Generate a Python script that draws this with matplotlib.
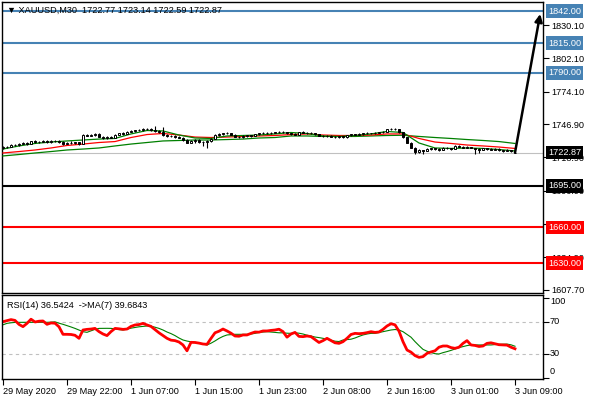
import numpy as np
import matplotlib
matplotlib.use("Agg")
import matplotlib.pyplot as plt

plt.rcParams['font.family'] = ['Liberation Sans', 'DejaVu Sans']

# ---- data (XAUUSD M30) ----
opens = [1726.8, 1727.5, 1728.0, 1729.6, 1729.2, 1730.5, 1731.0, 1730.2, 1732.4, 1731.6,
         1732.2, 1732.8, 1731.9, 1732.5, 1732.9, 1731.8, 1730.4, 1731.2, 1731.0, 1731.6,
         1730.4, 1737.6, 1737.1, 1737.9, 1738.6, 1736.3, 1735.0, 1736.2, 1735.4, 1738.1,
         1739.0, 1738.6, 1740.5, 1741.0, 1741.6, 1742.0, 1742.6, 1742.9, 1742.0, 1741.0,
         1740.0, 1738.0, 1736.5, 1737.0, 1736.0, 1735.5, 1733.4, 1731.2, 1733.0, 1733.5,
         1732.0, 1731.5, 1732.6, 1734.4, 1737.8, 1738.6, 1739.2, 1739.5, 1738.0, 1736.4,
         1736.0, 1737.2, 1737.5, 1737.0, 1738.2, 1739.0, 1739.6, 1739.0, 1739.7, 1740.1,
         1740.6, 1740.0, 1739.0, 1738.2, 1738.0, 1740.2, 1739.6, 1739.0, 1739.6, 1738.4,
         1737.0, 1736.5, 1737.1, 1736.4, 1735.8, 1736.5, 1735.9, 1737.5, 1738.4, 1738.0,
         1738.6, 1739.0, 1739.4, 1739.0, 1739.6, 1740.1, 1740.6, 1742.6, 1743.0, 1742.4,
         1740.0, 1736.0, 1731.0, 1727.0, 1723.2, 1725.0, 1724.4, 1726.0, 1726.5, 1725.8,
         1725.2, 1727.0, 1726.4, 1725.9, 1728.5, 1728.0, 1727.0, 1727.6, 1726.9, 1726.0,
         1725.5, 1726.5, 1726.0, 1725.5, 1726.1, 1725.0, 1724.5, 1725.0, 1722.77]
highs = [1728.4, 1728.6, 1730.2, 1730.4, 1731.2, 1731.6, 1731.8, 1733.0, 1733.1, 1732.9,
         1733.4, 1733.3, 1733.2, 1733.4, 1733.5, 1732.3, 1731.8, 1732.4, 1732.1, 1732.0,
         1738.3, 1738.4, 1738.5, 1739.2, 1739.0, 1737.0, 1736.8, 1737.0, 1738.6, 1739.6,
         1740.0, 1741.0, 1741.6, 1742.2, 1742.6, 1743.3, 1743.6, 1743.2, 1745.0, 1741.6,
         1744.2, 1738.4, 1737.6, 1737.5, 1736.6, 1736.0, 1734.2, 1733.6, 1734.0, 1734.0,
         1733.0, 1733.2, 1735.0, 1738.6, 1739.2, 1739.8, 1740.0, 1739.8, 1738.4, 1737.2,
         1737.8, 1738.0, 1737.9, 1738.6, 1739.4, 1740.2, 1740.0, 1740.2, 1740.6, 1741.2,
         1741.0, 1740.6, 1739.4, 1739.0, 1740.6, 1740.8, 1740.2, 1740.2, 1739.8, 1738.8,
         1737.6, 1737.6, 1737.4, 1736.8, 1737.0, 1736.8, 1738.0, 1738.8, 1738.8, 1739.0,
         1739.4, 1740.0, 1739.8, 1740.0, 1740.6, 1741.0, 1743.0, 1743.6, 1743.4, 1742.8,
         1740.4, 1736.4, 1731.6, 1727.4, 1725.6, 1725.4, 1726.4, 1726.9, 1727.0, 1726.4,
         1727.6, 1727.4, 1726.9, 1729.0, 1729.0, 1728.4, 1728.2, 1728.0, 1727.2, 1726.4,
         1727.0, 1726.8, 1726.4, 1726.6, 1726.4, 1725.4, 1725.6, 1725.3, 1723.14]
lows = [1726.2, 1726.9, 1727.6, 1728.8, 1728.6, 1729.9, 1729.6, 1729.8, 1731.2, 1730.8,
        1731.6, 1731.4, 1731.3, 1731.7, 1731.4, 1729.4, 1729.8, 1730.4, 1730.2, 1729.5,
        1730.2, 1736.6, 1736.7, 1737.2, 1735.8, 1734.4, 1734.6, 1734.8, 1735.2, 1737.6,
        1738.0, 1738.3, 1739.9, 1740.4, 1740.8, 1741.4, 1742.0, 1741.4, 1740.6, 1739.4,
        1737.2, 1736.0, 1736.0, 1735.4, 1734.8, 1732.8, 1730.6, 1730.6, 1731.2, 1731.4,
        1728.6, 1727.0, 1732.2, 1734.0, 1737.2, 1738.0, 1738.6, 1737.6, 1735.8, 1735.6,
        1735.6, 1736.4, 1736.4, 1736.6, 1737.8, 1738.6, 1738.4, 1738.6, 1739.2, 1739.6,
        1739.4, 1738.6, 1737.6, 1737.4, 1737.8, 1739.2, 1738.6, 1738.6, 1738.0, 1736.6,
        1736.0, 1736.2, 1735.8, 1735.2, 1735.4, 1735.2, 1735.6, 1737.2, 1737.6, 1737.6,
        1738.0, 1738.6, 1738.4, 1738.6, 1739.2, 1739.6, 1740.4, 1742.0, 1741.8, 1739.6,
        1735.6, 1730.6, 1726.4, 1721.4, 1722.6, 1721.8, 1724.0, 1725.4, 1725.2, 1724.6,
        1724.9, 1725.8, 1725.2, 1725.6, 1727.4, 1726.4, 1726.6, 1726.4, 1721.6, 1722.4,
        1725.2, 1725.4, 1725.0, 1725.1, 1724.6, 1723.8, 1724.2, 1723.4, 1722.59]
closes = [1727.5, 1728.0, 1729.6, 1729.2, 1730.5, 1731.0, 1730.2, 1732.4, 1731.6, 1732.2,
          1732.8, 1731.9, 1732.5, 1732.9, 1731.8, 1730.4, 1731.2, 1731.0, 1731.6, 1730.4,
          1737.6, 1737.1, 1737.9, 1738.6, 1736.3, 1735.0, 1736.2, 1735.4, 1738.1, 1739.0,
          1738.6, 1740.5, 1741.0, 1741.6, 1742.0, 1742.6, 1742.9, 1742.0, 1741.0, 1740.0,
          1738.0, 1736.5, 1737.0, 1736.0, 1735.5, 1733.4, 1731.2, 1733.0, 1733.5, 1732.0,
          1731.5, 1732.6, 1734.4, 1737.8, 1738.6, 1739.2, 1739.5, 1738.0, 1736.4, 1736.0,
          1737.2, 1737.5, 1737.0, 1738.2, 1739.0, 1739.6, 1739.0, 1739.7, 1740.1, 1740.6,
          1740.0, 1739.0, 1738.2, 1738.0, 1740.2, 1739.6, 1739.0, 1739.6, 1738.4, 1737.0,
          1736.5, 1737.1, 1736.4, 1735.8, 1736.5, 1735.9, 1737.5, 1738.4, 1738.0, 1738.6,
          1739.0, 1739.4, 1739.0, 1739.6, 1740.1, 1740.6, 1742.6, 1743.0, 1742.4, 1740.0,
          1736.0, 1731.0, 1727.0, 1723.2, 1725.0, 1724.4, 1726.0, 1726.5, 1725.8, 1725.2,
          1727.0, 1726.4, 1725.9, 1728.5, 1728.0, 1727.0, 1727.6, 1726.9, 1726.0, 1725.5,
          1726.5, 1726.0, 1725.5, 1726.1, 1725.0, 1724.5, 1725.0, 1724.0, 1722.87]

# moving averages on price, read every 4th bar
ma_fast = [1725.9, 1728.5, 1730.6, 1731.8, 1732.7, 1733.5, 1734.3, 1734.8, 1738.6, 1741.5,
           1741.1, 1737.7, 1735.2, 1734.8, 1736.9, 1737.3, 1737.7, 1738.6, 1739.8, 1739.0,
           1736.9, 1736.5, 1737.3, 1738.6, 1740.7, 1739.8, 1731.0, 1726.8, 1726.4, 1726.8,
           1726.4, 1725.5, 1724.3]
ma_mid = [1722.6, 1723.8, 1725.1, 1726.8, 1728.9, 1730.1, 1731.4, 1732.2, 1735.6, 1738.1,
          1739.0, 1737.7, 1736.0, 1735.6, 1736.0, 1736.5, 1736.9, 1737.3, 1738.1, 1738.6,
          1737.7, 1737.3, 1737.3, 1737.7, 1738.6, 1738.6, 1734.8, 1731.8, 1730.6, 1729.3,
          1728.5, 1727.6, 1726.4]
ma_slow = [1720.1, 1721.3, 1722.6, 1723.8, 1725.1, 1725.9, 1726.8, 1728.5, 1730.1, 1731.4,
           1732.7, 1733.1, 1733.5, 1733.5, 1733.9, 1734.3, 1735.2, 1735.6, 1736.9, 1736.9,
           1736.5, 1736.5, 1736.5, 1736.9, 1737.3, 1737.5, 1736.5, 1735.6, 1734.8, 1733.9,
           1733.1, 1732.2, 1730.6]

rsi = [70.4, 71.7, 73.0, 72.0, 67.0, 64.2, 68.3, 73.5, 70.0, 71.0,
       71.3, 67.1, 68.8, 68.5, 64.0, 54.6, 54.6, 54.4, 53.4, 49.6,
       60.0, 60.8, 61.2, 62.0, 58.0, 55.0, 53.0, 58.0, 62.0, 61.5,
       60.8, 61.2, 64.5, 66.3, 66.8, 68.3, 66.3, 64.5, 60.5, 56.5,
       53.0, 49.6, 47.3, 46.7, 45.0, 41.3, 34.0, 44.6, 44.4, 43.6,
       42.5, 42.1, 49.5, 56.5, 58.5, 61.2, 58.8, 56.0, 52.5, 52.2,
       53.8, 53.8, 55.8, 57.5, 57.3, 58.8, 58.8, 59.5, 60.0, 61.0,
       58.0, 51.0, 55.0, 57.0, 52.0, 51.7, 52.5, 51.7, 48.0, 44.4,
       46.7, 49.6, 46.8, 44.0, 43.3, 45.4, 49.6, 54.4, 55.8, 55.4,
       55.8, 56.7, 57.9, 57.0, 57.5, 60.8, 65.0, 67.8, 66.5, 58.5,
       45.4, 35.0, 32.3, 28.0, 25.8, 26.7, 30.8, 32.6, 34.0, 38.5,
       40.0, 40.0, 38.0, 37.1, 38.5, 43.3, 46.7, 41.3, 40.7, 39.4,
       40.0, 43.3, 44.0, 42.8, 41.6, 41.3, 41.1, 38.5, 36.54]
rsi_ma = [66.5, 68.3, 69.0, 69.5, 69.6, 69.6, 69.6, 69.6, 69.6, 69.6,
          69.6, 69.6, 69.8, 70.2, 68.5, 67.1, 65.5, 63.8, 62.0, 60.0,
          57.9, 57.1, 59.0, 60.8, 62.0, 62.1, 62.1, 62.0, 61.5, 60.5,
          60.0, 61.0, 62.3, 63.2, 64.0, 64.5, 65.0, 64.8, 63.5, 62.0,
          60.0, 57.5, 55.5, 53.0, 50.0, 47.5, 46.2, 45.2, 44.6, 43.8,
          42.3, 41.3, 43.5, 46.3, 49.5, 52.0, 53.8, 54.2, 54.6, 54.6,
          54.6, 54.6, 55.0, 55.8, 57.0, 57.5, 57.9, 57.5, 57.0, 56.5,
          56.5, 56.0, 55.8, 56.5, 56.0, 55.0, 53.5, 52.5, 51.2, 50.5,
          49.6, 48.5, 47.2, 46.0, 45.6, 47.5, 48.0, 48.5, 50.0, 52.0,
          53.8, 55.0, 55.8, 55.8, 56.8, 57.9, 59.0, 60.0, 60.6, 60.0,
          57.9, 54.5, 51.0, 45.5, 40.5, 35.8, 33.5, 31.8, 30.4, 30.0,
          31.7, 33.0, 34.5, 36.3, 38.0, 39.2, 40.5, 41.3, 41.3, 41.3,
          41.3, 41.3, 41.3, 41.8, 42.1, 42.2, 42.4, 41.5, 39.68]

levels = [1842.00, 1815.00, 1790.00, 1695.00, 1660.00, 1630.00]
level_colors = ['#4682B4', '#4682B4', '#4682B4', 'black', 'red', 'red']
price_ticks = [1830.10, 1802.10, 1774.10, 1746.90, 1718.90, 1690.90, 1662.90, 1634.90, 1607.70]
rsi_ticks = [100, 70, 30, 0]
time_labels = ['29 May 2020', '29 May 22:00', '1 Jun 07:00', '1 Jun 15:00', '1 Jun 23:00',
               '2 Jun 08:00', '2 Jun 16:00', '3 Jun 01:00', '3 Jun 09:00']
target = 1839.5
last_price = closes[-1]

bars = np.arange(len(closes))
o, h, l, c = map(np.array, (opens, highs, lows, closes))

W, H = 590, 400
fig = plt.figure(figsize=(W / 100, H / 100), dpi=100)


def box(left, top, right, bottom):
    return [left / W, 1 - bottom / H, (right - left) / W, (bottom - top) / H]


ax = fig.add_axes(box(2, 2, 543, 293))
rx = fig.add_axes(box(2, 295, 543, 379), sharex=ax)
fs = 6.6

# ---- price panel ----
ax.axhline(last_price, color='#C0C0C0', lw=0.8, zorder=1)
for lv, col in zip(levels, level_colors):
    ax.axhline(lv, color=col, lw=1.5, zorder=2)

ax.plot(bars[::4], ma_slow, color='#008000', lw=0.9, zorder=3)
ax.plot(bars[::4], ma_mid, color='red', lw=0.9, zorder=3)
ax.plot(bars[::4], ma_fast, color='#008000', lw=0.9, zorder=3)

up = c >= o
ax.vlines(bars, l, h, color='black', lw=0.8, zorder=4)
ax.bar(bars, np.abs(c - o), bottom=np.minimum(o, c), width=0.7,
       color=np.where(up, 'white', 'black'), edgecolor='black', linewidth=0.7, zorder=5)

ax.annotate('', xy=(bars[-1] + 6.3, target), xytext=(bars[-1], last_price),
            arrowprops=dict(arrowstyle='-|>', color='black', lw=1.8, mutation_scale=11,
                            shrinkA=0, shrinkB=0), zorder=6)

ax.set_xlim(-0.25, 135)
ax.set_ylim(1604.83, 1849.57)
ax.yaxis.tick_right()
ax.set_yticks(price_ticks)
ax.set_yticklabels(['%.2f' % v for v in price_ticks])
ax.tick_params(axis='y', direction='out', length=4, width=0.8, pad=2, labelsize=fs)
ax.tick_params(axis='x', bottom=False, labelbottom=False)

for lv, col in zip(levels, level_colors):
    ax.annotate('%.2f' % lv, xy=(1, lv), xycoords=('axes fraction', 'data'),
                xytext=(5, 0), textcoords='offset pixels', color='white', fontsize=fs,
                va='center', ha='left', annotation_clip=False, zorder=10,
                bbox=dict(boxstyle='square,pad=0.25', fc=col, ec='none'))
ax.annotate('%.2f' % last_price, xy=(1, last_price), xycoords=('axes fraction', 'data'),
            xytext=(5, 0), textcoords='offset pixels', color='white', fontsize=fs,
            va='center', ha='left', annotation_clip=False, zorder=10,
            bbox=dict(boxstyle='square,pad=0.25', fc='black', ec='none'))

ax.text(5 / 541, 1 - 8 / 291, '\u25BC XAUUSD,M30  1722.77 1723.14 1722.59 1722.87',
        transform=ax.transAxes, fontsize=fs, va='center', ha='left', zorder=11)

# ---- RSI panel ----
for lv in (70, 30):
    rx.axhline(lv, color='#C0C0C0', lw=0.8, ls=(0, (3, 3)))
rx.plot(bars, rsi_ma, color='#008000', lw=0.8)
rx.plot(bars, rsi, color='red', lw=2)
rx.set_ylim(-1.25, 103.75)
rx.yaxis.tick_right()
rx.set_yticks(rsi_ticks)
rx.set_yticklabels([])
rx.tick_params(axis='y', direction='out', length=4, width=0.8)
for v, dy in zip(rsi_ticks, (-4, 0, 0, 6)):
    rx.annotate(str(v), xy=(1, v), xycoords=('axes fraction', 'data'), xytext=(7, dy),
                textcoords='offset pixels', fontsize=fs, va='center', ha='left',
                annotation_clip=False)
rx.text(5 / 541, 1 - 10 / 84, 'RSI(14) 36.5424  ->MA(7) 39.6843', transform=rx.transAxes,
        fontsize=fs, va='center', ha='left')

rx.set_xticks(bars[::16])
rx.set_xticklabels(time_labels, ha='left')
rx.tick_params(axis='x', direction='out', length=4, width=0.8, pad=2, labelsize=fs)

for a in (ax, rx):
    for s in a.spines.values():
        s.set_color('black')
        s.set_linewidth(1)

fig.savefig('out.png', dpi=100)
